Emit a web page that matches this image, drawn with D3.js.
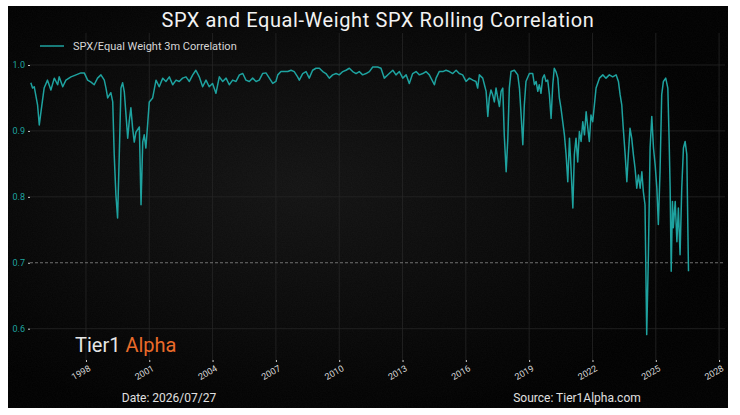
<!DOCTYPE html>
<html>
<head>
<meta charset="utf-8">
<script src="https://cdn.jsdelivr.net/npm/d3@7"></script>
<style>
  html, body { margin: 0; padding: 0; background: #fff; }
  svg { display: block; }
</style>
</head>
<body>
<svg id="chart"></svg>
<script>
// decimal years
const years = [
  1995.39, 1995.47, 1995.55, 1995.71, 1995.79, 1995.87, 1996.02, 1996.18, 1996.34, 1996.50,
  1996.66, 1996.73, 1996.90, 1997.05, 1997.29, 1997.53, 1997.76, 1997.92, 1998.08, 1998.24,
  1998.39, 1998.55, 1998.71, 1998.87, 1998.95, 1999.03, 1999.18, 1999.27, 1999.34, 1999.42,
  1999.50, 1999.58, 1999.66, 1999.74, 1999.82, 1999.90, 1999.98, 2000.05, 2000.13, 2000.21,
  2000.29, 2000.37, 2000.53, 2000.61, 2000.69, 2000.76, 2000.84, 2001.00, 2001.16, 2001.32,
  2001.47, 2001.64, 2001.79, 2001.95, 2002.11, 2002.27, 2002.42, 2002.58, 2002.74, 2002.90,
  2003.06, 2003.21, 2003.37, 2003.53, 2003.69, 2003.84, 2004.00, 2004.16, 2004.32, 2004.48,
  2004.64, 2004.79, 2004.95, 2005.11, 2005.27, 2005.43, 2005.58, 2005.74, 2005.90, 2006.06,
  2006.21, 2006.37, 2006.53, 2006.69, 2006.85, 2007.00, 2007.09, 2007.24, 2007.40, 2007.56,
  2007.72, 2007.87, 2008.03, 2008.11, 2008.27, 2008.43, 2008.58, 2008.74, 2008.90, 2009.06,
  2009.22, 2009.37, 2009.53, 2009.69, 2009.85, 2010.00, 2010.17, 2010.32, 2010.48, 2010.64,
  2010.80, 2010.95, 2011.11, 2011.27, 2011.43, 2011.59, 2011.82, 2011.98, 2012.14, 2012.37,
  2012.54, 2012.69, 2012.85, 2013.01, 2013.17, 2013.32, 2013.48, 2013.64, 2013.80, 2013.96,
  2014.11, 2014.27, 2014.51, 2014.59, 2014.74, 2014.91, 2015.06, 2015.22, 2015.38, 2015.54,
  2015.69, 2015.85, 2016.01, 2016.17, 2016.33, 2016.48, 2016.56, 2016.64, 2016.80, 2016.88,
  2016.96, 2017.04, 2017.11, 2017.19, 2017.27, 2017.35, 2017.43, 2017.51, 2017.59, 2017.67,
  2017.75, 2017.82, 2017.91, 2017.99, 2018.06, 2018.14, 2018.30, 2018.46, 2018.54, 2018.62,
  2018.70, 2018.77, 2018.85, 2019.01, 2019.17, 2019.25, 2019.33, 2019.41, 2019.48, 2019.56,
  2019.64, 2019.72, 2019.80, 2019.88, 2019.96, 2020.04, 2020.12, 2020.19, 2020.27, 2020.36,
  2020.43, 2020.51, 2020.59, 2020.67, 2020.75, 2020.83, 2020.91, 2020.99, 2021.07, 2021.14,
  2021.22, 2021.30, 2021.38, 2021.46, 2021.54, 2021.62, 2021.70, 2021.78, 2021.85, 2021.93,
  2022.01, 2022.09, 2022.17, 2022.33, 2022.49, 2022.64, 2022.80, 2022.96, 2023.12, 2023.23,
  2023.31, 2023.39, 2023.46, 2023.55, 2023.63, 2023.70, 2023.78, 2023.86, 2023.94, 2024.02,
  2024.10, 2024.18, 2024.26, 2024.34, 2024.41, 2024.49, 2024.57, 2024.65, 2024.73, 2024.81,
  2024.89, 2024.97, 2025.05, 2025.12, 2025.20, 2025.28, 2025.36, 2025.47, 2025.57, 2025.63,
  2025.68, 2025.73, 2025.79, 2025.83, 2025.92, 2026.00, 2026.07, 2026.15, 2026.23, 2026.31,
  2026.39, 2026.47, 2026.55
];
const corr = [
  0.973, 0.965, 0.967, 0.939, 0.909, 0.929, 0.965, 0.977, 0.962, 0.980,
  0.970, 0.982, 0.967, 0.977, 0.982, 0.985, 0.988, 0.988, 0.977, 0.974,
  0.970, 0.980, 0.985, 0.977, 0.965, 0.950, 0.958, 0.944, 0.864, 0.803,
  0.768, 0.864, 0.965, 0.973, 0.959, 0.924, 0.889, 0.914, 0.935, 0.905,
  0.883, 0.898, 0.906, 0.788, 0.883, 0.894, 0.874, 0.944, 0.950, 0.977,
  0.967, 0.980, 0.975, 0.982, 0.970, 0.977, 0.975, 0.980, 0.982, 0.975,
  0.985, 0.992, 0.982, 0.967, 0.977, 0.967, 0.972, 0.957, 0.982, 0.975,
  0.980, 0.970, 0.977, 0.975, 0.985, 0.987, 0.977, 0.975, 0.980, 0.975,
  0.977, 0.987, 0.988, 0.980, 0.972, 0.975, 0.985, 0.990, 0.990, 0.990,
  0.992, 0.990, 0.982, 0.977, 0.987, 0.990, 0.980, 0.992, 0.995, 0.995,
  0.990, 0.987, 0.980, 0.985, 0.987, 0.985, 0.990, 0.992, 0.995, 0.990,
  0.987, 0.990, 0.985, 0.987, 0.990, 0.997, 0.997, 0.995, 0.980, 0.987,
  0.992, 0.985, 0.990, 0.980, 0.985, 0.972, 0.987, 0.990, 0.985, 0.987,
  0.990, 0.985, 0.970, 0.980, 0.990, 0.990, 0.992, 0.990, 0.987, 0.992,
  0.987, 0.985, 0.975, 0.980, 0.977, 0.975, 0.965, 0.985, 0.980, 0.970,
  0.960, 0.922, 0.950, 0.962, 0.955, 0.944, 0.965, 0.950, 0.937, 0.960,
  0.965, 0.894, 0.838, 0.889, 0.965, 0.990, 0.992, 0.985, 0.965, 0.924,
  0.879, 0.939, 0.975, 0.987, 0.987, 0.970, 0.975, 0.960, 0.970, 0.957,
  0.980, 0.985, 0.975, 0.977, 0.955, 0.919, 0.970, 0.995, 0.990, 0.980,
  0.950, 0.934, 0.914, 0.894, 0.864, 0.823, 0.889, 0.838, 0.783, 0.864,
  0.889, 0.853, 0.899, 0.884, 0.914, 0.894, 0.929, 0.904, 0.884, 0.924,
  0.914, 0.939, 0.965, 0.980, 0.985, 0.980, 0.985, 0.982, 0.985, 0.975,
  0.955, 0.939, 0.904, 0.864, 0.823, 0.864, 0.904, 0.889, 0.864, 0.843,
  0.813, 0.833, 0.813, 0.838, 0.808, 0.788, 0.591, 0.712, 0.874, 0.922,
  0.874, 0.848, 0.813, 0.758, 0.838, 0.955, 0.975, 0.980, 0.965, 0.889,
  0.813, 0.687, 0.793, 0.753, 0.793, 0.732, 0.783, 0.712, 0.813, 0.874,
  0.884, 0.864, 0.687
];
const yTicks = [0.6, 0.7, 0.8, 0.9, 1.0];
const xTickYears = [1998, 2001, 2004, 2007, 2010, 2013, 2016, 2019, 2022, 2025, 2028];
const refLine = 0.7;
const title = "SPX and Equal-Weight SPX Rolling Correlation";
const seriesName = "SPX/Equal Weight 3m Correlation";

const width = 740, height = 415;
const panel = {x: 8, y: 6, w: 720, h: 402};
const plot = {left: 30, right: 725, top: 33, bottom: 360};

const lineColor = "#1ea29f";
const font = "Roboto, 'DejaVu Sans', sans-serif";

function toDate(y) {
  const yr = Math.floor(y);
  const start = new Date(yr, 0, 1), end = new Date(yr + 1, 0, 1);
  return new Date(+start + (y - yr) * (end - start));
}

const data = years.map((y, i) => ({date: toDate(y), value: corr[i]}));

const svg = d3.select("#chart")
  .attr("width", width)
  .attr("height", height)
  .attr("viewBox", [0, 0, width, height]);

const defs = svg.append("defs");
const grad = defs.append("radialGradient")
  .attr("id", "bg").attr("cx", "40%").attr("cy", "45%").attr("r", "60%");
grad.append("stop").attr("offset", "0%").attr("stop-color", "#131313");
grad.append("stop").attr("offset", "55%").attr("stop-color", "#090909");
grad.append("stop").attr("offset", "100%").attr("stop-color", "#000");

const noise = defs.append("filter").attr("id", "noise")
  .attr("x", 0).attr("y", 0).attr("width", "100%").attr("height", "100%");
noise.append("feTurbulence").attr("type", "fractalNoise")
  .attr("baseFrequency", 0.8).attr("numOctaves", 2).attr("seed", 3);
noise.append("feColorMatrix").attr("type", "matrix")
  .attr("values", "0 0 0 0 1  0 0 0 0 1  0 0 0 0 1  0 0 0 0.07 0");

svg.append("rect")
  .attr("x", panel.x).attr("y", panel.y)
  .attr("width", panel.w).attr("height", panel.h)
  .attr("fill", "url(#bg)");
svg.append("rect")
  .attr("x", panel.x).attr("y", panel.y)
  .attr("width", panel.w).attr("height", panel.h)
  .attr("filter", "url(#noise)")
  .attr("opacity", 0.5);

const x = d3.scaleTime()
  .domain([toDate(1995.35), toDate(2028.28)])
  .range([plot.left, plot.right]);
const y = d3.scaleLinear()
  .domain([0.5525, 1.0485])
  .range([plot.bottom, plot.top]);

const xTicks = xTickYears.map(yr => new Date(yr, 0, 1));

// grid
const grid = svg.append("g");
grid.selectAll("line.v")
  .data(xTicks)
  .join("line")
  .attr("class", "v")
  .attr("x1", d => x(d)).attr("x2", d => x(d))
  .attr("y1", plot.top).attr("y2", plot.bottom)
  .attr("stroke", "#262626").attr("stroke-width", 0.8);
grid.selectAll("line.h")
  .data(yTicks.filter(d => d !== refLine))
  .join("line")
  .attr("class", "h")
  .attr("x1", plot.left).attr("x2", plot.right)
  .attr("y1", d => y(d)).attr("y2", d => y(d))
  .attr("stroke", "#262626").attr("stroke-width", 0.8);

// 0.7 reference
svg.append("line")
  .attr("x1", plot.left).attr("x2", plot.right)
  .attr("y1", y(refLine)).attr("y2", y(refLine))
  .attr("stroke", "#8a8a8a").attr("stroke-width", 0.8)
  .attr("stroke-dasharray", "3,2");

// axes
const yAxis = svg.append("g")
  .attr("transform", `translate(${plot.left},0)`)
  .call(d3.axisLeft(y).tickValues(yTicks).tickFormat(d3.format(".1f")).tickSize(2).tickPadding(3));
yAxis.select(".domain").remove();
yAxis.selectAll(".tick line").attr("stroke", "#cfcfcf");
yAxis.selectAll("text")
  .attr("fill", lineColor)
  .style("font", `9px ${font}`);

const xAxis = svg.append("g")
  .attr("transform", `translate(0,${plot.bottom})`)
  .call(d3.axisBottom(x).tickValues(xTicks).tickFormat(d3.timeFormat("%Y")).tickSize(2).tickPadding(3));
xAxis.select(".domain").remove();
xAxis.selectAll(".tick line").attr("stroke", "#cfcfcf");
xAxis.selectAll("text")
  .attr("fill", "#d8d8d8")
  .style("font", `9px ${font}`)
  .attr("text-anchor", "end")
  .attr("dx", "-0.1em")
  .attr("dy", "0.7em")
  .attr("transform", "rotate(-30)");

// series
svg.append("path")
  .datum(data)
  .attr("fill", "none")
  .attr("stroke", lineColor)
  .attr("stroke-width", 1.5)
  .attr("stroke-linejoin", "round")
  .attr("d", d3.line().x(d => x(d.date)).y(d => y(d.value)));

// title
svg.append("text")
  .attr("x", 378).attr("y", 27)
  .attr("text-anchor", "middle")
  .attr("fill", "#f2f2f2")
  .style("font", `20px ${font}`)
  .style("letter-spacing", "0.6px")
  .text(title);

// legend
svg.append("line")
  .attr("x1", 40).attr("x2", 64).attr("y1", 46).attr("y2", 46)
  .attr("stroke", lineColor).attr("stroke-width", 1.5);
svg.append("text")
  .attr("x", 73).attr("y", 50)
  .attr("fill", "#d6d6d6")
  .style("font", `11px ${font}`)
  .text(seriesName);

// logo
const logo = svg.append("text")
  .attr("x", 75).attr("y", 352)
  .style("font", `20px ${font}`);
logo.append("tspan").attr("fill", "#e6e6e6").text("Tier1 ");
logo.append("tspan").attr("fill", "#ea6b2a").text("Alpha");

// footer
svg.append("text")
  .attr("x", 169).attr("y", 402)
  .attr("text-anchor", "middle")
  .attr("fill", "#e0e0e0")
  .style("font", `12px ${font}`)
  .text("Date: 2026/07/27");
svg.append("text")
  .attr("x", 577).attr("y", 402)
  .attr("text-anchor", "middle")
  .attr("fill", "#e0e0e0")
  .style("font", `12px ${font}`)
  .text("Source: Tier1Alpha.com");
</script>
</body>
</html>
